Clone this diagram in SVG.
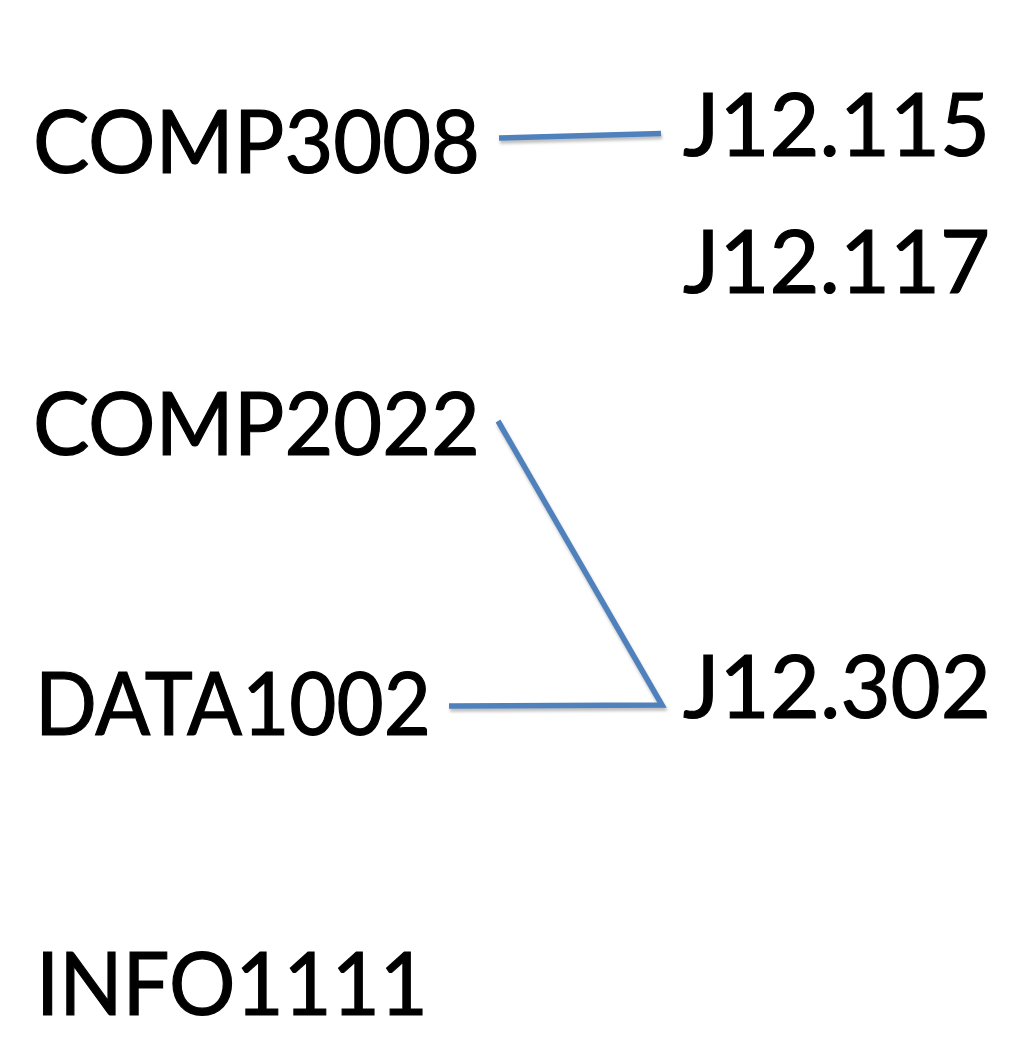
<svg xmlns="http://www.w3.org/2000/svg" width="1028" height="1044" viewBox="0 0 1028 1044">
<style>
.lbl{font-family:Lato,"Open Sans","Liberation Sans",sans-serif;font-size:88px;fill:#000;stroke:#000;stroke-width:1.2px}
.edge{stroke:#4F81BD;stroke-width:5.5;fill:none;stroke-linecap:butt}
.shadow{stroke:#000;stroke-opacity:0.25;stroke-width:5.5;fill:none}
</style>
<defs>
<filter id="blur" filterUnits="userSpaceOnUse" x="0" y="0" width="1028" height="1044">
<feGaussianBlur stdDeviation="1.8"/>
</filter>
<path id="e1" d="M499,138 L661,133.5"/>
<path id="e2" d="M498,421 L662,705 L449,706"/>
</defs>
<rect width="1028" height="1044" fill="#fff"/>
<g id="connectors">
<g filter="url(#blur)" transform="translate(1,3)">
<use href="#e1" class="shadow"/>
<use href="#e2" class="shadow"/>
</g>
<use href="#e1" class="edge"/>
<use href="#e2" class="edge"/>
</g>
<g id="COMP3008"><text class="lbl" x="33" y="173" textLength="447" lengthAdjust="spacingAndGlyphs">COMP3008</text></g>
<g id="COMP2022"><text class="lbl" x="33" y="455" textLength="447" lengthAdjust="spacingAndGlyphs">COMP2022</text></g>
<g id="DATA1002"><text class="lbl" x="35" y="735" textLength="396" lengthAdjust="spacingAndGlyphs">DATA1002</text></g>
<g id="INFO1111"><text class="lbl" x="36" y="1015" textLength="392" lengthAdjust="spacingAndGlyphs">INFO1111</text></g>
<g id="J12.115"><text class="lbl" x="683" y="156" textLength="307" lengthAdjust="spacingAndGlyphs">J12.115</text></g>
<g id="J12.117"><text class="lbl" x="683" y="293" textLength="307" lengthAdjust="spacingAndGlyphs">J12.117</text></g>
<g id="J12.302"><text class="lbl" x="683" y="718" textLength="308" lengthAdjust="spacingAndGlyphs">J12.302</text></g>
</svg>
